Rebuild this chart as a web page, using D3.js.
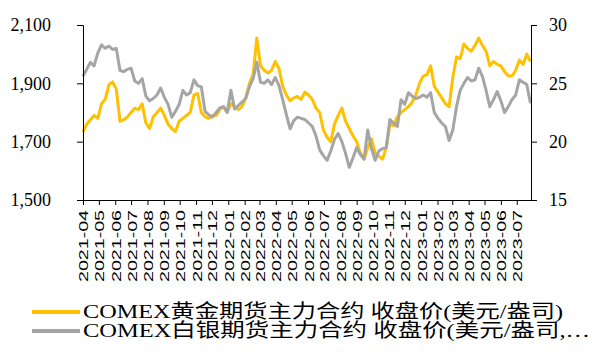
<!DOCTYPE html>
<html>
<head>
<meta charset="utf-8">
<script src="https://cdn.jsdelivr.net/npm/d3@7"></script>
<style>
  body { margin: 0; background: #fff; }
  svg { display: block; }
</style>
</head>
<body>
<div id="chart"></div>
<script>
  // weekly closes, first week 2021-04-01
  const startDate = new Date(2021, 3, 1);
  const endDate = new Date(2023, 6, 28);

  const goldLabel = "COMEX黄金期货主力合约 收盘价(美元/盎司)";
  const silverLabel = "COMEX白银期货主力合约 收盘价(美元/盎司,…";

  const gold = [
    1733, 1760, 1775, 1790, 1780, 1830, 1845, 1895, 1905, 1880,
    1770, 1775, 1785, 1800, 1815, 1810, 1830, 1765, 1745, 1785,
    1800, 1815, 1790, 1760, 1745, 1735, 1770, 1780, 1790, 1800,
    1860, 1865, 1800, 1785, 1780, 1790, 1790, 1810, 1820, 1800,
    1830, 1820, 1810, 1820, 1850, 1900, 1930, 2055, 1960, 1945,
    1935, 1945, 1975, 1950, 1890, 1860, 1840, 1850, 1855, 1845,
    1870, 1860, 1845, 1815, 1800, 1740, 1715, 1700, 1760, 1790,
    1815, 1770, 1745, 1720, 1700, 1660, 1640, 1680, 1710, 1660,
    1650, 1640, 1680, 1760, 1755, 1785, 1800, 1810, 1820, 1835,
    1860, 1900, 1925, 1930, 1960, 1890, 1870, 1850, 1830, 1820,
    1920, 1990, 1985, 2035, 2020, 2010, 2030, 2055, 2030, 2010,
    1960, 1975, 1965, 1960, 1940, 1925, 1925, 1945, 1980, 1965,
    2000, 1975
  ];

  const silver = [
    25.6, 26.2, 26.8, 26.5, 27.6, 28.3, 28.0, 28.2, 27.9, 28.0,
    26.1, 26.0, 26.2, 26.3, 25.2, 25.0, 25.4, 23.9, 23.5, 23.7,
    24.0, 24.6, 23.8, 23.2, 22.1, 22.6, 23.2, 24.4, 24.0, 24.2,
    25.3, 24.8, 24.7, 22.6, 22.3, 22.1, 22.5, 22.9, 23.0, 22.5,
    24.4, 22.8, 23.1, 23.4, 23.7, 24.7, 25.4, 26.8, 25.1, 25.0,
    25.3, 24.9, 25.5, 24.8, 23.6, 22.3, 21.1, 21.8, 22.1, 22.0,
    21.9, 21.6, 21.3, 20.5, 19.3, 18.8, 18.4, 19.2, 20.2, 20.7,
    20.0, 19.0, 17.8, 18.6, 19.5, 18.9, 18.5, 21.0, 19.4, 18.4,
    19.2, 19.4, 19.5, 21.9, 21.6, 21.3, 23.6, 23.2, 24.2, 23.9,
    23.7, 23.8, 24.0, 23.8, 24.2, 22.5, 22.0, 21.6, 21.3, 20.1,
    21.0, 23.0, 24.4, 25.0, 25.5, 25.2, 25.3, 26.3, 25.6, 24.4,
    23.0, 23.6, 24.3, 23.5, 22.5, 23.0, 23.6, 24.0, 25.3, 25.1,
    24.9, 23.3
  ];

  const leftTicks = [1500, 1700, 1900, 2100];
  const rightTicks = [15, 20, 25, 30];

  const width = 592, height = 354;
  const margin = { top: 25, right: 61, bottom: 154, left: 83 };
  const innerW = width - margin.left - margin.right;
  const innerH = height - margin.top - margin.bottom;

  const serif = "'Times New Roman', 'Liberation Serif', 'Noto Sans CJK SC', serif";
  const sans = "Arial, 'Liberation Sans', sans-serif";

  const dates = gold.map((d, i) => d3.timeDay.offset(startDate, i * 7));

  const x = d3.scaleTime().domain([startDate, endDate]).range([0, innerW]);
  const yL = d3.scaleLinear().domain([1500, 2100]).range([innerH, 0]);
  const yR = d3.scaleLinear().domain([15, 30]).range([innerH, 0]);

  const svg = d3.select("#chart").append("svg")
    .attr("width", width)
    .attr("height", height);

  const g = svg.append("g")
    .attr("transform", `translate(${margin.left},${margin.top})`);

  // lines
  const goldLine = d3.line().x((d, i) => x(dates[i])).y(d => yL(d));
  const silverLine = d3.line().x((d, i) => x(dates[i])).y(d => yR(d));

  g.append("path")
    .datum(gold)
    .attr("fill", "none")
    .attr("stroke", "#FFC000")
    .attr("stroke-width", 3)
    .attr("stroke-linejoin", "round")
    .attr("d", goldLine);

  g.append("path")
    .datum(silver)
    .attr("fill", "none")
    .attr("stroke", "#A5A5A5")
    .attr("stroke-width", 3)
    .attr("stroke-linejoin", "round")
    .attr("d", silverLine);

  // left axis
  const axL = g.append("g")
    .call(d3.axisLeft(yL).tickValues(leftTicks).tickSize(6).tickPadding(26).tickFormat(d3.format(",")));
  axL.selectAll("text").attr("font-family", serif).attr("font-size", 18).attr("fill", "#000");
  axL.selectAll("line, path").attr("stroke", "#000");

  // right axis
  const axR = g.append("g")
    .attr("transform", `translate(${innerW},0)`)
    .call(d3.axisRight(yR).tickValues(rightTicks).tickSize(6).tickPadding(12));
  axR.selectAll("text").attr("font-family", serif).attr("font-size", 18).attr("fill", "#000");
  axR.selectAll("line, path").attr("stroke", "#000");

  // bottom axis
  const months = d3.timeMonth.range(startDate, d3.timeDay.offset(endDate, 1));
  const axB = g.append("g")
    .attr("transform", `translate(0,${innerH})`)
    .call(d3.axisBottom(x).tickValues(months).tickSize(5).tickSizeOuter(0).tickFormat(d3.timeFormat("%Y-%m")));
  axB.selectAll("line, path").attr("stroke", "#000");
  axB.selectAll("text")
    .attr("font-family", sans)
    .attr("font-size", 13)
    .attr("fill", "#000")
    .attr("text-anchor", "end")
    .attr("transform", "rotate(-90)")
    .attr("x", -10)
    .attr("y", 0)
    .attr("dx", 0)
    .attr("dy", "0.38em")
    .attr("textLength", 72)
    .attr("lengthAdjust", "spacingAndGlyphs");

  // legend
  const legend = svg.append("g");
  const items = [
    { label: goldLabel, color: "#FFC000", y: 312, len: 480 },
    { label: silverLabel, color: "#A5A5A5", y: 331, len: 507 }
  ];
  items.forEach(it => {
    legend.append("line")
      .attr("x1", 32).attr("x2", 80)
      .attr("y1", it.y).attr("y2", it.y)
      .attr("stroke", it.color)
      .attr("stroke-width", 4);
    legend.append("text")
      .attr("x", 83)
      .attr("y", it.y + 6)
      .attr("font-family", serif)
      .attr("font-size", 19)
      .attr("fill", "#000")
      .attr("textLength", it.len)
      .attr("lengthAdjust", "spacingAndGlyphs")
      .text(it.label);
  });
</script>
</body>
</html>
